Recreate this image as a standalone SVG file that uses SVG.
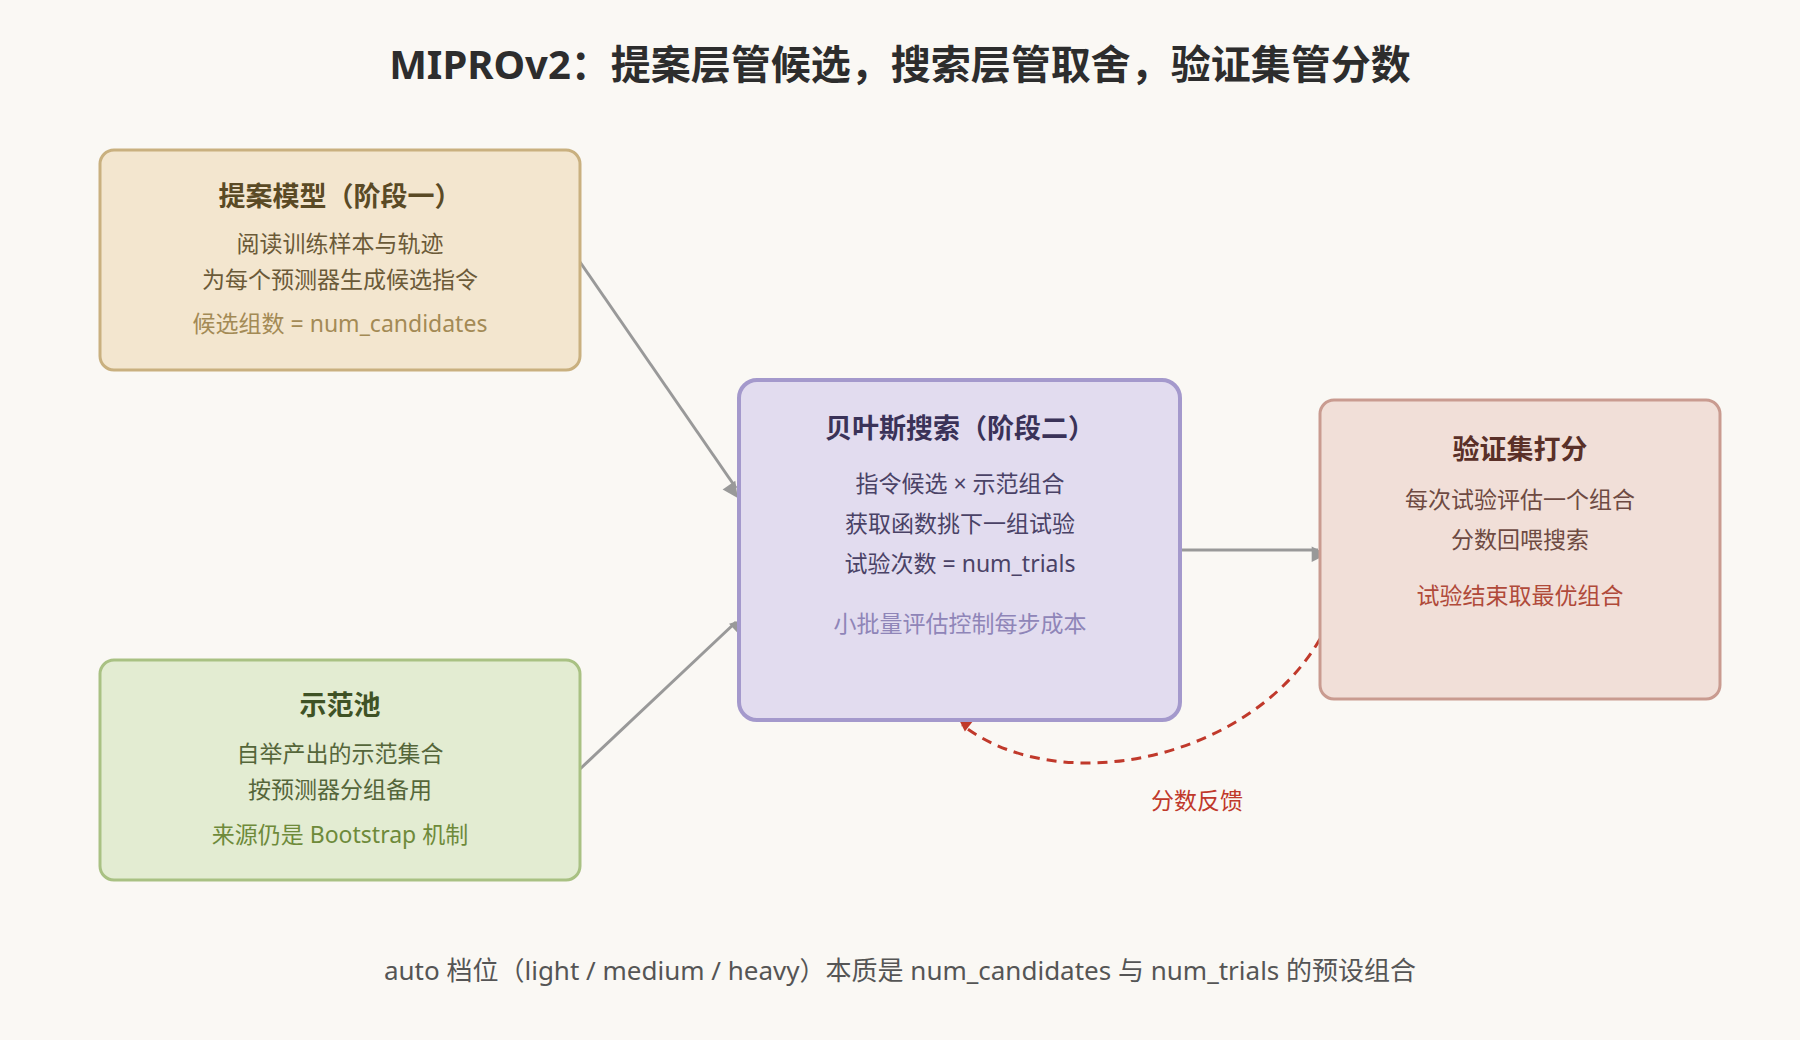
<svg xmlns="http://www.w3.org/2000/svg" width="1800" height="1040" viewBox="0 0 1800 1040">
<style>
text{font-family:"Noto Sans","Noto Sans CJK SC",sans-serif;text-anchor:middle}
.t{font-size:27px;font-weight:bold}
.b{font-size:23px}
.c{font-size:23px}
.ln{stroke:#999;stroke-width:3;fill:none}
</style>
<defs>
<marker id="ag" viewBox="0 0 10 10" refX="9" refY="5" markerWidth="7" markerHeight="7" orient="auto" markerUnits="userSpaceOnUse" style="overflow:visible"><path d="M0,0L10,5L0,10z" fill="#999" transform="scale(2.2)"/></marker>
<marker id="ar" viewBox="0 0 10 10" refX="9" refY="5" markerWidth="7" markerHeight="7" orient="auto" markerUnits="userSpaceOnUse" style="overflow:visible"><path d="M0,0L10,5L0,10z" fill="#c0392b" transform="scale(2.2)"/></marker>
</defs>
<rect width="1800" height="1040" fill="#faf8f4"/>
<text x="900" y="79" style="font-size:40px;font-weight:bold" fill="#2d2d2d">MIPROv2：提案层管候选，搜索层管取舍，验证集管分数</text>
<g id="connectors">
<line class="ln" x1="580" y1="262" x2="736" y2="488" marker-end="url(#ag)"/>
<line class="ln" x1="580" y1="769" x2="736" y2="622" marker-end="url(#ag)"/>
<line class="ln" x1="1180" y1="550" x2="1318" y2="550" marker-end="url(#ag)"/>
<path d="M1320,639 C1250,760 1060,800 962,725" fill="none" stroke="#c0392b" stroke-width="3" stroke-dasharray="10,7" marker-end="url(#ar)"/>
<text x="1197" y="809" class="c" fill="#c0392b">分数反馈</text>
</g>
<g id="proposal">
<rect x="100" y="150" width="480" height="220" rx="14" fill="#f3e6cf" stroke="#c9b07f" stroke-width="3"/>
<text x="340" y="206" class="t" fill="#5a4a25">提案模型（阶段一）</text>
<text x="340" y="252" class="b" fill="#6b5a38">阅读训练样本与轨迹</text>
<text x="340" y="288" class="b" fill="#6b5a38">为每个预测器生成候选指令</text>
<text x="340" y="332" class="c" fill="#a38a55">候选组数 = num_candidates</text>
</g>
<g id="demos">
<rect x="100" y="660" width="480" height="220" rx="14" fill="#e3ecd2" stroke="#a9c183" stroke-width="3"/>
<text x="340" y="715" class="t" fill="#3f5225">示范池</text>
<text x="340" y="762" class="b" fill="#55663a">自举产出的示范集合</text>
<text x="340" y="798" class="b" fill="#55663a">按预测器分组备用</text>
<text x="340" y="843" class="c" fill="#6e8a3a">来源仍是 Bootstrap 机制</text>
</g>
<g id="search">
<rect x="739" y="380" width="441" height="340" rx="18" fill="#e2dcef" stroke="#a499cc" stroke-width="4"/>
<text x="960" y="438" class="t" fill="#3a3258">贝叶斯搜索（阶段二）</text>
<text x="960" y="492" class="b" fill="#4a4266">指令候选 × 示范组合</text>
<text x="960" y="532" class="b" fill="#4a4266">获取函数挑下一组试验</text>
<text x="960" y="572" class="b" fill="#4a4266">试验次数 = num_trials</text>
<text x="960" y="632" class="c" fill="#8f85b8">小批量评估控制每步成本</text>
</g>
<g id="valid">
<rect x="1320" y="400" width="400" height="299" rx="14" fill="#f1dfd8" stroke="#c99b90" stroke-width="3"/>
<text x="1520" y="459" class="t" fill="#5a3028">验证集打分</text>
<text x="1520" y="508" class="b" fill="#6e4a42">每次试验评估一个组合</text>
<text x="1520" y="548" class="b" fill="#6e4a42">分数回喂搜索</text>
<text x="1520" y="604" class="c" fill="#b04a3a">试验结束取最优组合</text>
</g>
<text x="900" y="980" style="font-size:26px" fill="#555">auto 档位（light / medium / heavy）本质是 num_candidates 与 num_trials 的预设组合</text>
</svg>
